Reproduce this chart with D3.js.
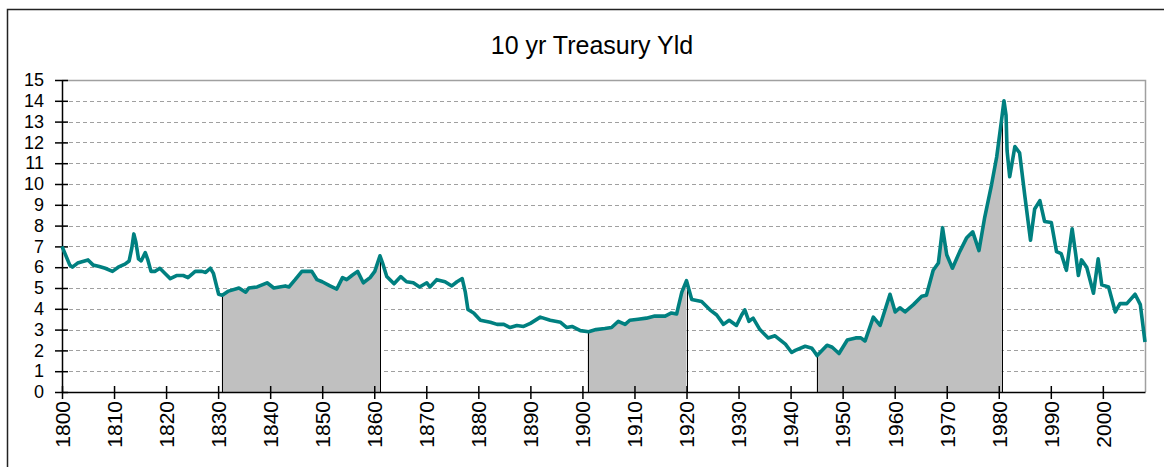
<!DOCTYPE html>
<html>
<head>
<meta charset="utf-8">
<script src="https://cdn.jsdelivr.net/npm/d3@7"></script>
<style>
	body { margin: 0; background: #fff; }
	svg { display: block; font-family: "Liberation Sans", Arial, sans-serif; }
</style>
</head>
<body>
<div id="chart"></div>
<script>
// 10 yr yield (fractional years where the line wiggles)
const years = [
	1800, 1801.5, 1802, 1803, 1805, 1806, 1807, 1808.3, 1809.7, 1810.8,
	1812.1, 1812.9, 1813.4, 1813.8, 1814.2, 1814.7, 1815.2, 1816, 1816.5, 1817.1,
	1817.9, 1818.8, 1819.8, 1820.8, 1822, 1823.3, 1824.2, 1825.6, 1826.9, 1827.6,
	1828.5, 1829.1, 1830.1, 1830.8, 1832, 1834, 1835.3, 1835.9, 1837.5, 1839.4,
	1840.7, 1842.9, 1843.6, 1844.8, 1846.1, 1848, 1849, 1850, 1851.5, 1852.8,
	1853.9, 1854.7, 1855.7, 1856.8, 1857.9, 1859.2, 1860.1, 1861.1, 1861.6, 1862.4,
	1863.8, 1865.1, 1866.2, 1867.5, 1868.7, 1870.1, 1870.7, 1872, 1873.6, 1874.9,
	1875.9, 1876.9, 1877.5, 1878, 1879.1, 1880.4, 1882.3, 1883.6, 1884.9, 1886.1,
	1887.4, 1888.7, 1890, 1891.9, 1893.8, 1895.8, 1897, 1898, 1899.6, 1901.2,
	1902.6, 1904.3, 1905.6, 1906.9, 1908.2, 1909.1, 1910.7, 1912.3, 1913.9, 1915.9,
	1917.1, 1918.1, 1919.1, 1920, 1921, 1922.9, 1924.5, 1925.8, 1927.1, 1928.2,
	1929.6, 1930.6, 1931.2, 1932, 1932.8, 1934.1, 1935.7, 1937, 1939, 1940.2,
	1940.9, 1942.8, 1944.1, 1945.1, 1947, 1948, 1949.3, 1950.9, 1952.5, 1953.5,
	1954.3, 1955.9, 1957.2, 1959.1, 1960.1, 1961, 1962, 1963.6, 1965.2, 1966.1,
	1967.4, 1968.4, 1969.2, 1970, 1971.1, 1972.5, 1973.8, 1975, 1976.2, 1977.3,
	1978.6, 1979.6, 1980.5, 1981, 1981.4, 1981.6, 1982.1, 1983.1, 1984, 1985,
	1986.1, 1986.9, 1987.9, 1988.8, 1990.1, 1991.1, 1992, 1993, 1994.1, 1994.8,
	1995.3, 1995.9, 1996.9, 1998.2, 1999.1, 1999.8, 2001.1, 2002.4, 2003.3, 2004.6,
	2006.2, 2007.2, 2008.1
];
const yields = [
	7.0, 6.1, 6.0, 6.2, 6.35, 6.1, 6.05, 5.95, 5.8, 6.0,
	6.15, 6.3, 6.9, 7.6, 7.2, 6.4, 6.3, 6.7, 6.35, 5.8,
	5.8, 5.95, 5.7, 5.45, 5.6, 5.6, 5.5, 5.8, 5.8, 5.75,
	5.95, 5.7, 4.7, 4.65, 4.85, 5.0, 4.8, 5.0, 5.05, 5.25,
	5.0, 5.1, 5.05, 5.4, 5.8, 5.8, 5.4, 5.3, 5.1, 4.95,
	5.5, 5.4, 5.6, 5.8, 5.25, 5.5, 5.8, 6.55, 6.2, 5.55,
	5.2, 5.55, 5.3, 5.25, 5.05, 5.25, 5.05, 5.4, 5.3, 5.1,
	5.3, 5.45, 4.8, 3.97, 3.8, 3.45, 3.35, 3.25, 3.25, 3.1,
	3.2, 3.15, 3.3, 3.6, 3.45, 3.35, 3.1, 3.15, 2.95, 2.9,
	3.0, 3.05, 3.1, 3.4, 3.25, 3.45, 3.5, 3.55, 3.65, 3.65,
	3.8, 3.75, 4.8, 5.35, 4.45, 4.35, 3.95, 3.7, 3.25, 3.45,
	3.2, 3.7, 3.95, 3.4, 3.55, 3.0, 2.6, 2.7, 2.3, 1.9,
	2.0, 2.2, 2.1, 1.75, 2.25, 2.15, 1.85, 2.5, 2.6, 2.6,
	2.45, 3.6, 3.2, 4.7, 3.85, 4.05, 3.85, 4.2, 4.6, 4.65,
	5.85, 6.2, 7.9, 6.6, 5.95, 6.75, 7.4, 7.7, 6.8, 8.4,
	9.95, 11.3, 13.0, 14.0, 13.3, 11.6, 10.35, 11.8, 11.5, 9.45,
	7.3, 8.8, 9.2, 8.2, 8.15, 6.75, 6.65, 5.85, 7.85, 6.6,
	5.6, 6.35, 6.0, 4.75, 6.4, 5.15, 5.05, 3.85, 4.25, 4.25,
	4.7, 4.2, 2.4
];
// shaded stretches (start, end year)
const shadeStarts = [1830.7, 1901.0, 1945.0];
const shadeEnds = [1861.2, 1920.0, 1980.6];
const xTickYears = d3.range(1800, 2001, 10);
const yTickValues = d3.range(0, 16, 1);
const title = "10 yr Treasury Yld";

const width = 1164, height = 467;
const margin = { top: 80, right: 19, bottom: 75, left: 62 };

const data = years.map((y, i) => ({ year: y, value: yields[i] }));

const x = d3.scaleLinear()
	.domain([1800, 2008.1])
	.range([margin.left, width - margin.right]);
const y = d3.scaleLinear()
	.domain([0, 15])
	.range([height - margin.bottom, margin.top]);

const svg = d3.select("#chart")
	.append("svg")
	.attr("width", width)
	.attr("height", height);

// outer chart frame
svg.append("rect")
	.attr("x", 7.5).attr("y", 9.5)
	.attr("width", width).attr("height", height)
	.attr("fill", "none")
	.attr("stroke", "#222")
	.attr("stroke-width", 1.5);

svg.append("text")
	.attr("x", 592).attr("y", 54)
	.attr("text-anchor", "middle")
	.attr("font-size", 25)
	.attr("fill", "#000")
	.text(title);

// dashed gridlines
svg.append("g")
	.selectAll("line")
	.data(yTickValues.filter((d) => d > 0 && d < 15))
	.join("line")
	.attr("x1", margin.left).attr("x2", width - margin.right)
	.attr("y1", (d) => Math.round(y(d)) + 0.5)
	.attr("y2", (d) => Math.round(y(d)) + 0.5)
	.attr("stroke", "#a0a0a0")
	.attr("stroke-dasharray", "4,3");

// plot border on top / right
svg.append("path")
	.attr("d", `M${margin.left},${y(15) + 0.5}H${width - margin.right + 0.5}V${y(0)}`)
	.attr("fill", "none")
	.attr("stroke", "#a0a0a0")
	.attr("stroke-width", 1.5);

// value on the line at a given year
const valueAt = (yr) => {
	const i = d3.bisector((d) => d.year).left(data, yr);
	if (i <= 0) return data[0].value;
	const a = data[i - 1], b = data[i];
	return a.value + (b.value - a.value) * (yr - a.year) / (b.year - a.year);
};

// shaded regions
const area = d3.area()
	.x((d) => x(d.year))
	.y0(y(0))
	.y1((d) => y(d.value));

const shades = shadeStarts.map((s, i) => {
	const e = shadeEnds[i];
	const pts = [{ year: s, value: valueAt(s) }]
		.concat(data.filter((d) => d.year > s && d.year < e))
		.concat([{ year: e, value: valueAt(e) }]);
	return pts;
});

const shadeG = svg.append("g");
shadeG.selectAll("path")
	.data(shades)
	.join("path")
	.attr("d", area)
	.attr("fill", "#c0c0c0");

shadeG.selectAll("line")
	.data(shadeStarts.concat(shadeEnds))
	.join("line")
	.attr("x1", (d) => Math.round(x(d)) + 0.5)
	.attr("x2", (d) => Math.round(x(d)) + 0.5)
	.attr("y1", y(0))
	.attr("y2", (d) => y(valueAt(d)))
	.attr("stroke", "#000")
	.attr("stroke-width", 1);

// axes
const yAxis = svg.append("g")
	.attr("transform", `translate(${margin.left},0)`)
	.call(d3.axisLeft(y).tickValues(yTickValues).tickSize(7).tickSizeOuter(0));
yAxis.selectAll(".tick line").attr("x2", 6).attr("x1", -7);
yAxis.selectAll(".tick text")
	.attr("x", -18)
	.attr("font-size", 18)
	.attr("font-family", "Liberation Sans, Arial, sans-serif")
	.attr("fill", "#000");

const xAxis = svg.append("g")
	.attr("transform", `translate(0,${y(0)})`)
	.call(d3.axisBottom(x).tickValues(xTickYears).tickFormat(d3.format("d")).tickSize(6).tickSizeOuter(0));
xAxis.selectAll(".tick line").attr("y1", -6).attr("y2", 7);
xAxis.selectAll(".tick text")
	.attr("font-size", 21)
	.attr("font-family", "Liberation Sans, Arial, sans-serif")
	.attr("fill", "#000")
	.attr("text-anchor", "end")
	.attr("dy", "0.35em")
	.attr("transform", "translate(0,9) rotate(-90)")
	.attr("x", 0)
	.attr("y", 0);

[yAxis, xAxis].forEach((g) => {
	g.select(".domain").attr("stroke", "#000").attr("stroke-width", 1.5);
	g.selectAll(".tick line").attr("stroke", "#000").attr("stroke-width", 1.5);
});

// the yield line
svg.append("path")
	.datum(data)
	.attr("d", d3.line().x((d) => x(d.year)).y((d) => y(d.value)))
	.attr("fill", "none")
	.attr("stroke", "#008080")
	.attr("stroke-width", 3.6)
	.attr("stroke-linejoin", "round");
</script>
</body>
</html>
